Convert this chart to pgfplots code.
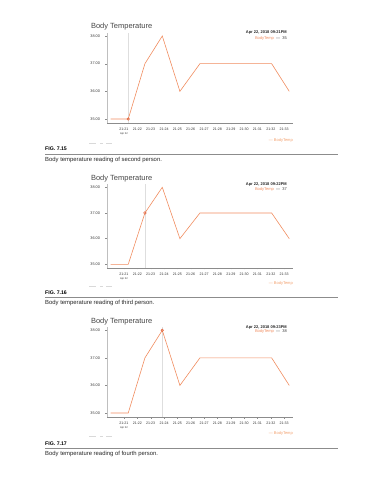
\documentclass[border=0pt]{standalone}
\usepackage{pgfplots}
\pgfplotsset{compat=1.18}
\usepackage{pgfplotstable}
\usepackage{fontspec}
\setmainfont{Liberation Sans}
\definecolor{lineor}{RGB}{240,140,95}
\definecolor{markor}{RGB}{226,95,55}
\definecolor{legor}{RGB}{242,160,110}
\definecolor{ttl}{RGB}{70,70,70}

\pgfplotstableread{
t     temp
20.00 35
21.32 35
22.57 37
23.87 38
25.19 36
26.69 37
28.03 37
29.37 37
30.71 37
32.06 37
33.38 36
}\temps

\pgfplotsset{bt/.style={
  scale only axis, width=186pt,
  xmin=19.73, xmax=33.66,
  axis x line*=bottom, axis y line*=left,
  axis line style={-},
  x axis line style={black!45, line width=0.4pt},
  y axis line style={black!25, line width=0.4pt},
  xtick={21,22,...,33},
  xticklabels={{21:21\\[0.6pt]{\fontsize{2.6}{3}\selectfont Apr 22}},21:22,21:23,21:24,21:25,21:26,21:27,21:28,21:29,21:30,21:31,21:32,21:33},
  ytick={35,36,37,38},
  yticklabels={35.00,36.00,37.00,38.00},
  tick style={black!45, line width=0.3pt},
  tick align=outside, major tick length=1.5pt,
  xticklabel style={font=\fontsize{3.6}{4}\selectfont, text=black!80, align=center, anchor=north, yshift=0.5pt},
  yticklabel style={font=\fontsize{3.8}{4}\selectfont, text=black!80, xshift=-2pt},
  /pgf/number format/assume math mode=true,
  clip=false,
}}

\begin{document}
\begin{tikzpicture}
\path[use as bounding box] (0pt,0pt) rectangle (389pt,480pt);

% ---------- Chart 1 ----------
\begin{axis}[bt, at={(107pt,357pt)}, anchor=south west, height=90pt, ymin=34.856, ymax=38.108]
\addplot[black!13, line width=0.4pt] coordinates {(21.32,34.856) (21.32,38.108)};
\addplot[lineor, line width=0.6pt] table[x=t, y=temp] {\temps};
\addplot[only marks, mark=o, mark size=1.3pt, markor, line width=0.5pt] coordinates {(21.32,35)};
\end{axis}
\node[anchor=west, text=ttl, font=\fontsize{7.5}{8}\selectfont] at (87.5pt,453pt) {Body Temperature};
\node[anchor=east, inner sep=0pt, font=\fontsize{4}{4.5}\selectfont\bfseries, text=black!85] at (287pt,447pt) {Apr 22, 2018 09:21PM};
\node[anchor=east, inner sep=0pt, font=\fontsize{4}{4.5}\selectfont] at (287pt,442pt) {\textcolor{lineor}{BodyTemp}\ \ \textcolor{black!80}{—\ \ 35}};
\node[anchor=east, inner sep=0pt, font=\fontsize{4}{4.5}\selectfont, text=legor] at (293pt,340pt) {— BodyTemp};
\draw[black!15, line width=0.5pt] (89pt,337pt) -- (96pt,337pt) (100pt,337pt) -- (103pt,337pt) (106pt,337pt) -- (112pt,337pt);
\node[anchor=west, inner sep=0pt, font=\fontsize{5.2}{6}\selectfont\bfseries] at (45pt,331pt) {FIG. 7.15};
\draw[black!45, line width=0.5pt] (45pt,325.5pt) -- (338pt,325.5pt);
\node[anchor=west, inner sep=0pt, font=\fontsize{5.9}{7}\selectfont, text=black!85] at (45pt,320pt) {Body temperature reading of second person.};

% ---------- Chart 2 ----------
\begin{axis}[bt, at={(107pt,212pt)}, anchor=south west, height=84pt, ymin=34.856, ymax=38.129]
\addplot[black!13, line width=0.4pt] coordinates {(22.57,34.856) (22.57,38.129)};
\addplot[lineor, line width=0.6pt] table[x=t, y=temp] {\temps};
\addplot[only marks, mark=o, mark size=1.3pt, markor, line width=0.5pt] coordinates {(22.57,37)};
\end{axis}
\node[anchor=west, text=ttl, font=\fontsize{7.5}{8}\selectfont] at (87.5pt,301pt) {Body Temperature};
\node[anchor=east, inner sep=0pt, font=\fontsize{4}{4.5}\selectfont\bfseries, text=black!85] at (287pt,295pt) {Apr 22, 2018 09:22PM};
\node[anchor=east, inner sep=0pt, font=\fontsize{4}{4.5}\selectfont] at (287pt,290.5pt) {\textcolor{lineor}{BodyTemp}\ \ \textcolor{black!80}{—\ \ 37}};
\node[anchor=east, inner sep=0pt, font=\fontsize{4}{4.5}\selectfont, text=legor] at (293pt,196.3pt) {— BodyTemp};
\draw[black!15, line width=0.5pt] (89pt,193.5pt) -- (96pt,193.5pt) (100pt,193.5pt) -- (103pt,193.5pt) (106pt,193.5pt) -- (112pt,193.5pt);
\node[anchor=west, inner sep=0pt, font=\fontsize{5.2}{6}\selectfont\bfseries] at (45pt,187.3pt) {FIG. 7.16};
\draw[black!45, line width=0.5pt] (45pt,182.3pt) -- (338pt,182.3pt);
\node[anchor=west, inner sep=0pt, font=\fontsize{5.9}{7}\selectfont, text=black!85] at (45pt,176.7pt) {Body temperature reading of third person.};

% ---------- Chart 3 ----------
\begin{axis}[bt, at={(107pt,63pt)}, anchor=south west, height=90pt, ymin=34.855, ymax=38.12]
\addplot[black!13, line width=0.4pt] coordinates {(23.87,34.855) (23.87,38.12)};
\addplot[lineor, line width=0.6pt] table[x=t, y=temp] {\temps};
\addplot[only marks, mark=o, mark size=1.3pt, markor, line width=0.5pt] coordinates {(23.87,38)};
\end{axis}
\node[anchor=west, text=ttl, font=\fontsize{7.5}{8}\selectfont] at (87.5pt,158.3pt) {Body Temperature};
\node[anchor=east, inner sep=0pt, font=\fontsize{4}{4.5}\selectfont\bfseries, text=black!85] at (287pt,152.7pt) {Apr 22, 2018 09:23PM};
\node[anchor=east, inner sep=0pt, font=\fontsize{4}{4.5}\selectfont] at (287pt,148.3pt) {\textcolor{lineor}{BodyTemp}\ \ \textcolor{black!80}{—\ \ 38}};
\node[anchor=east, inner sep=0pt, font=\fontsize{4}{4.5}\selectfont, text=legor] at (293pt,46.3pt) {— BodyTemp};
\draw[black!15, line width=0.5pt] (89pt,43.3pt) -- (96pt,43.3pt) (100pt,43.3pt) -- (103pt,43.3pt) (106pt,43.3pt) -- (112pt,43.3pt);
\node[anchor=west, inner sep=0pt, font=\fontsize{5.2}{6}\selectfont\bfseries] at (45pt,36.7pt) {FIG. 7.17};
\draw[black!45, line width=0.5pt] (45pt,31.7pt) -- (338pt,31.7pt);
\node[anchor=west, inner sep=0pt, font=\fontsize{5.9}{7}\selectfont, text=black!85] at (45pt,26pt) {Body temperature reading of fourth person.};
\end{tikzpicture}
\end{document}
